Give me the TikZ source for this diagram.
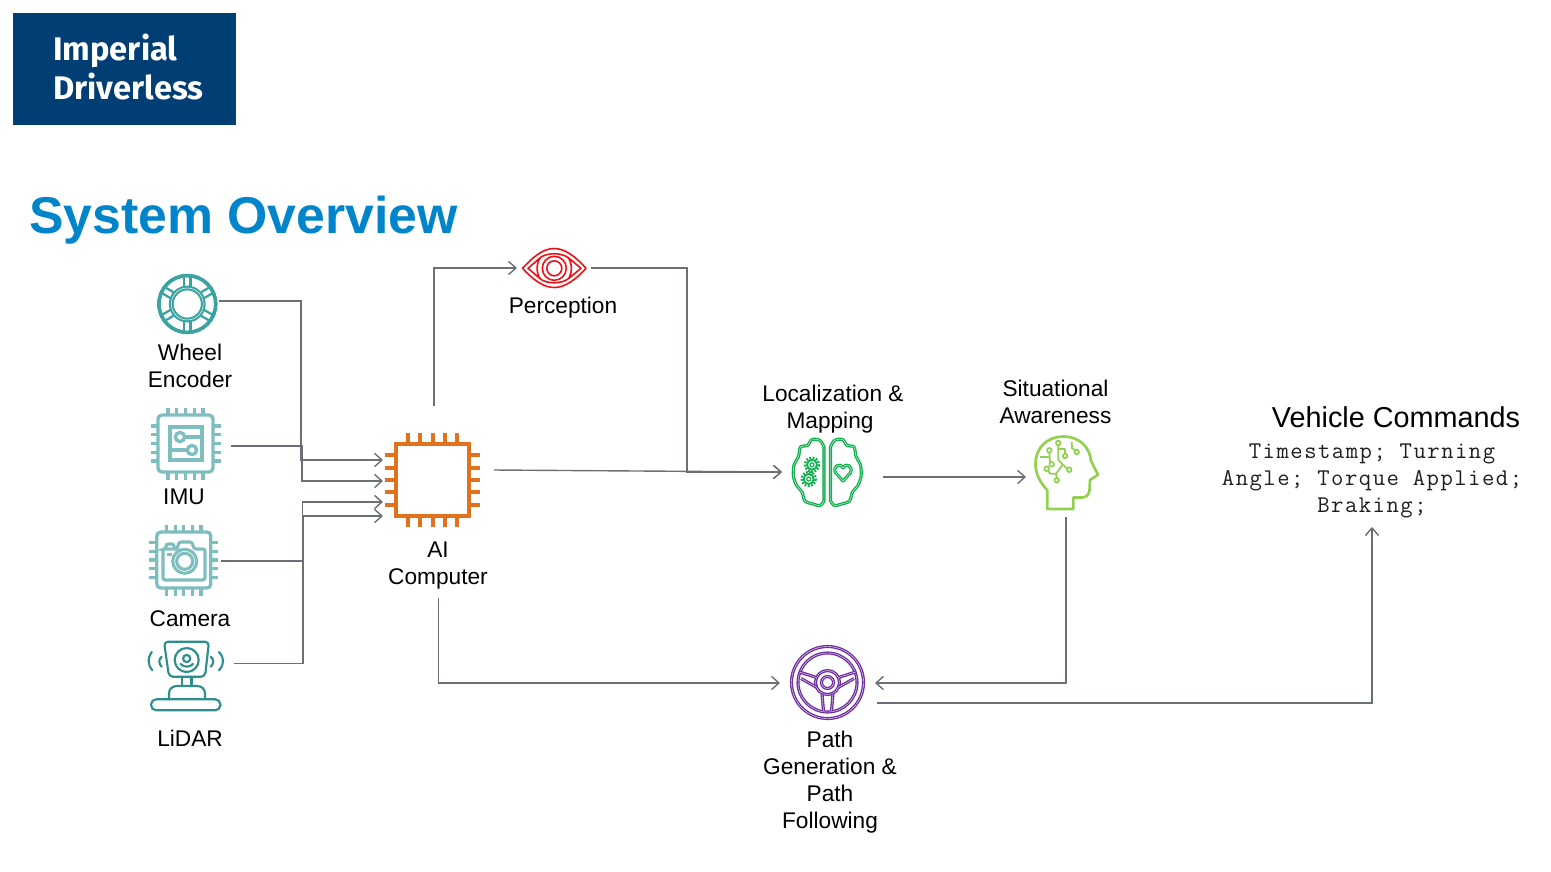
\documentclass[tikz,border=0pt]{standalone}
\usepackage{fontspec}
\setmainfont{Liberation Sans}
\setmonofont{Latin Modern Mono}[LetterSpace=6.2]
\newfontfamily\logofont{Fira Sans}
\usetikzlibrary{arrows.meta,calc}
\definecolor{navy}{HTML}{003E74}
\definecolor{titleblue}{HTML}{0085CA}
\definecolor{connc}{HTML}{6B7077}
\definecolor{wheelc}{HTML}{3AA39F}
\definecolor{chipc}{HTML}{7FBEBE}
\definecolor{lidarc}{HTML}{2E8D8D}
\definecolor{aic}{HTML}{E2711D}
\definecolor{eyec}{HTML}{F50F14}
\definecolor{brainc}{HTML}{13AF50}
\definecolor{headc}{HTML}{92D050}
\definecolor{steerc}{HTML}{7030A0}
\tikzset{
  conn/.style={draw=connc,line width=1.05pt,line join=miter,-{Straight Barb[length=5.6pt,width=10pt,line width=1.05pt]}},
  port/.style={draw=none,inner sep=0pt,outer sep=0pt},
  lab/.style={font=\fontsize{17}{20.25}\selectfont,align=center,anchor=north,inner sep=0pt,execute at begin node=\strut,text=black},
  dbl/.style={line width=1.05pt,double=white,double distance=.25pt},
}
\newcommand\chipicon[9]{%
  \draw[#1,line width=#8pt,rounded corners=#9pt] ({#2-#4},{#3-#5}) rectangle ({#2+#4},{#3+#5});
  \foreach \k in {-2,...,2}{
    \draw[#1,line width=#8pt] ({#2+\k*#6},{#3-#5}) -- ++(0,-#7);
    \draw[#1,line width=#8pt] ({#2+\k*#6},{#3+#5}) -- ++(0,#7);
    \draw[#1,line width=#8pt] ({#2-#4},{#3+\k*#6}) -- ++(-#7,0);
    \draw[#1,line width=#8pt] ({#2+#4},{#3+\k*#6}) -- ++(#7,0);
  }}
\begin{document}
\begin{tikzpicture}[x=.75pt,y=-.75pt]
\useasboundingbox (0,0) rectangle (1551,871);
\fill[white] (0,0) rectangle (1551,871);

% logo and title
\node[fill=navy,minimum width=167.25pt,minimum height=84pt,inner sep=0pt,anchor=north west] (logo) at (13,13) {};
\node[anchor=north west,inner sep=0pt,text=white,align=left,font=\logofont\bfseries\fontsize{24.5}{29.25}\selectfont] (logotext) at (53,33) {\strut Imperial\\Driverless};
\node[anchor=base west,inner sep=0pt,text=titleblue,font=\bfseries\fontsize{38.8}{46}\selectfont] (title) at (29,233) {System Overview};

% port boxes for the connectors
\node[port,minimum width=45.75pt,minimum height=45pt] (wheel) at (188.5,301) {};
\node[port,minimum width=67.5pt,minimum height=45pt] (imu) at (186,446) {};
\node[port,minimum width=52.5pt,minimum height=45pt] (camera) at (186,561) {};
\node[port,minimum width=66pt,minimum height=45pt] (lidar) at (190,663.5) {};
\node[port,minimum width=83.25pt,minimum height=144pt] (ai) at (438.5,502) {};
\node[port,minimum width=55.5pt,minimum height=30pt] (eye) at (554,268) {};
\node[port,minimum width=75.75pt,minimum height=52.5pt] (loc) at (832.5,472) {};
\node[port,minimum width=60pt,minimum height=60pt] (sa) at (1066,477) {};
\node[port,minimum width=71.25pt,minimum height=60pt] (steer) at (827.5,683) {};

% wheel encoder
\begin{scope}[shift={(187.3,304)},wheelc]
  \draw[line width=2.8pt] (0,0) circle (28.4);
  \draw[line width=3.6pt] (0,0) circle (16);
  \draw[white,line width=.35pt] (0,0) circle (16);
  \foreach \a in {0,60,...,300}{
    \begin{scope}[rotate=\a]
      \draw[line width=1.7pt] (-3.3,-18) -- (-3.3,-27) (3.3,-18) -- (3.3,-27);
    \end{scope}
  }
\end{scope}

% IMU
\chipicon{chipc}{185.5}{443.5}{27.5}{28.5}{8.8}{7.5}{2.5}{3}
\begin{scope}[chipc,line width=2.5pt]
  \draw (170,427) rectangle (202,460);
  \draw (180,437) circle (4.6);
  \draw (192,450) circle (4.6);
  \draw (184.6,437) -- (202,437);
  \draw (170,450) -- (187.4,450);
\end{scope}

% camera
\chipicon{chipc}{183.8}{560}{27}{28}{8.6}{7.5}{2.5}{3}
\begin{scope}[chipc,line width=2.3pt]
  \draw[rounded corners=1.6pt] (163,580) -- (163,549) -- (166,549) -- (166,544) -- (174,544) -- (174,549) -- (177,549) -- (179,542) -- (192,542) -- (194,549) -- (205,549) -- (205,580) -- cycle;
  \draw (184.7,561.3) circle (12);
  \draw (184.7,561.3) circle (8);
  \draw (167.3,554.7) -- (172,554.7);
\end{scope}

% lidar
\begin{scope}[lidarc,line width=1.6pt,line cap=round]
  \draw[rounded corners=3pt] (164,641.7) -- (209,641.7) -- (205,676.7) -- (169,676.7) -- cycle;
  \draw (186.7,660) circle (12);
  \draw (186.7,658.5) circle (3.6);
  \draw (180.5,664) .. controls (184,667.5) and (189.5,667.5) .. (193,664);
  \draw (181.7,676.7) -- (181.7,686) (191.5,676.7) -- (191.5,686);
  \draw (169,699.3) -- (169,694) .. controls (169,689) and (172,686) .. (177,686) -- (197,686) .. controls (202,686) and (205,689) .. (205,694) -- (205,699.3);
  \draw[rounded corners=4pt] (151,699.3) rectangle (220.5,710.3);
  \draw (151.7,652) .. controls (147.5,658) and (147.5,664) .. (152.3,670.3);
  \draw (161.7,656.7) .. controls (158.5,659) and (158.5,664) .. (161.7,666.7);
  \draw (219,652) .. controls (224.5,658) and (224.5,664) .. (219,670.3);
  \draw (210.7,656.7) .. controls (214,659) and (214,664) .. (210.7,666.7);
\end{scope}

% AI chip
\chipicon{aic}{432.5}{480}{36.5}{36}{12.3}{11}{3}{0}

% eye
\begin{scope}[eyec,line width=1.2pt,line join=round]
  \draw (522.5,268.3) .. controls (533,257) and (543,248.5) .. (554.3,248.5) .. controls (565,248.5) and (576,257) .. (586,268.3) .. controls (576,279.5) and (565,287.5) .. (554.3,287.5) .. controls (543,287.5) and (533,279.5) .. cycle;
  \draw (528,268.3) -- (540.5,257.5) .. controls (536,263) and (536,274) .. (540.5,279) -- cycle;
  \draw (581,268.3) -- (568,257.5) .. controls (572.5,263) and (572.5,274) .. (568,279) -- cycle;
  \draw (554.3,268.3) circle (12);
  \draw (554.3,268.3) circle (7.5);
  \draw (540.5,257.5) .. controls (547,252.5) and (561,252.5) .. (568,257.5);
  \draw (540.5,279) .. controls (547,284) and (561,284) .. (568,279);
\end{scope}

% brain
\def\brainhalf{plot[smooth,tension=.55] coordinates {(824,447) (820,440.5) (812,439.5) (807.5,445.5) (800.5,447) (798.5,456.5) (794,465) (793.5,477) (797,486) (802,492) (805,501) (813,504) (820,505.5) (824,501)} -- cycle}
\begin{scope}[brainc,line join=round]
  \draw[dbl] \brainhalf;
  \begin{scope}[shift={(1654.5,0)},xscale=-1]
    \draw[dbl] \brainhalf;
  \end{scope}
  \foreach \gx/\gy in {812/464.7,808.7/479}{
    \draw[line width=1.8pt,dash pattern=on 1.4pt off 1.1pt] (\gx,\gy) circle (7);
    \draw[line width=1.4pt] (\gx,\gy) circle (5);
    \draw[line width=.9pt] (\gx,\gy) circle (2);
  }
  \draw[dbl] (843,481) -- (835.8,473) .. controls (832,467) and (840,461.5) .. (843,468) .. controls (846,461.5) and (854,467) .. (850.2,473) -- cycle;
\end{scope}

% head
\begin{scope}[headc,line width=2pt,line join=round]
  \draw (1047.3,509) -- (1047.3,490.3) .. controls (1039,481) and (1035.5,473) .. (1035.5,464) .. controls (1035.5,447) and (1048,436.5) .. (1063.3,436.5) .. controls (1079,436.5) and (1090,447) .. (1091,461) -- (1098,474.7) -- (1090,480) -- (1089.5,490) .. controls (1089,495) and (1086,497.5) .. (1082,497.5) -- (1073.3,497.5) -- (1073.3,509) -- cycle;
  \begin{scope}[line width=1.3pt]
    \draw (1058.3,445.3) -- (1058.3,460) -- (1067,468.5);
    \draw (1069.3,469.7) circle (2.3);
    \draw (1058.3,443) circle (2.3);
    \draw (1062.7,464.7) -- (1056,473.7) -- (1056.7,478);
    \draw (1056.7,480.3) circle (2.3);
    \draw (1056,473.7) -- (1050,473.7) -- (1048.2,470.5);
    \draw (1046.7,468.7) circle (2.3);
    \draw (1065,453.7) -- (1065,449) -- (1058.3,449);
    \draw (1065,456) circle (2.3);
    \draw (1071.7,442) -- (1072,448) -- (1075,450.5);
    \draw (1076.7,452) circle (2.3);
    \draw (1049.3,452.6) -- (1050,462);
    \draw (1049.3,450.3) circle (2.3);
    \draw (1051.7,464.3) circle (2.3);
    \draw (1040,457) -- (1049.3,457);
  \end{scope}
\end{scope}

% steering wheel
\begin{scope}[shift={(827.5,682.5)},steerc]
  \draw[dbl] (0,0) circle (36);
  \draw[dbl] (0,0) circle (29.5);
  \draw[dbl] (0,0) circle (12);
  \draw[dbl] (0,0) circle (6);
  \draw[dbl] (-28,-10.5) -- (-11,-5);
  \draw[dbl] (-26.5,-4) -- (-10.5,5);
  \draw[dbl] (28,-10.5) -- (11,-5);
  \draw[dbl] (26.5,-4) -- (10.5,5);
  \draw[dbl] (-5.5,11) -- (-4,28.5);
  \draw[dbl] (5.5,11) -- (4,28.5);
\end{scope}

% labels
\node[lab] (wheellab) at (190,344) {Wheel\\Encoder};
\node[lab] (imulab) at (184,485) {IMU};
\node[lab] (cameralab) at (190,607) {Camera};
\node[lab] (lidarlab) at (190,727) {LiDAR};
\node[lab] (perclab) at (563,294) {Perception};
\node[lab] (ailab) at (438,542) {AI\\Computer};
\node[lab] (loclab) at (833,385) {Localization \&\\\mbox{Mapping\hspace{4.5pt}}};
\node[lab] (salab) at (1055.5,380) {Situational\\Awareness};
\node[lab] (pathlab) at (830,731) {Path\\Generation \&\\Path\\Following};
\node[anchor=base,inner sep=0pt,font=\fontsize{21.6}{26}\selectfont] (vclab) at (1396,427) {Vehicle Commands};
\node[lab,inner ysep=4.7pt,text=black!88,font=\ttfamily\fontsize{18}{20.25}\selectfont,anchor=south] (cmds) at (1372,527) {Timestamp; Turning\\Angle; Torque Applied;\\Braking;\strut};

% connectors
\draw[conn] (wheel.east) -- ++(82,0) |- ($(ai.north west)+(0,54)$);
\draw[conn] (imu.east) -- ++(71,0) |- ($(ai.north west)+(0,75)$);
\draw[conn] (camera.east) -- ++(81.5,0) |- ($(ai.north west)+(0,96)$);
\draw[conn] (lidar.east) -- ++(69,0) |- ($(ai.north west)+(0,110)$);
\draw[conn] ($(ai.north)+(-4.5,0)$) |- (eye.west);
\draw[conn] (eye.east) -- ++(96,0) |- (loc.west);
\draw[conn] ($(ai.north east)+(0,64)$) -- (loc.west);
\draw[conn] ($(loc.east)+(0,5)$) -- (sa.west);
\draw[conn] (sa.south) |- (steer.east);
\draw[conn] (ai.south) |- (steer.west);
\draw[conn] ($(steer.east)+(2,20)$) -| (cmds.south);
\end{tikzpicture}
\end{document}
